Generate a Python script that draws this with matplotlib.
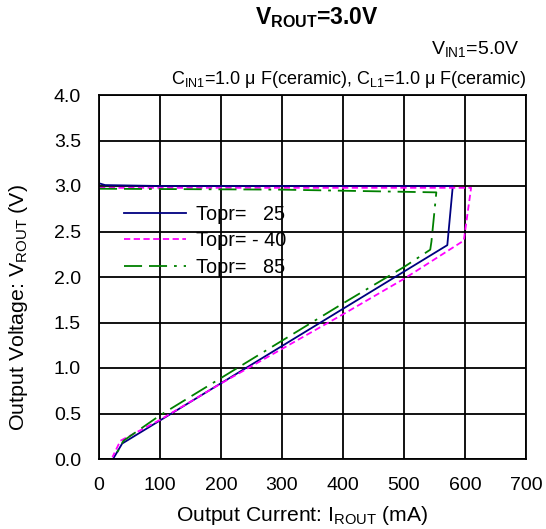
import matplotlib
matplotlib.use("Agg")
import matplotlib.pyplot as plt

plt.rcParams["font.family"] = ["Liberation Sans", "DejaVu Sans"]
plt.rcParams["mathtext.fontset"] = "custom"
plt.rcParams["mathtext.rm"] = "Liberation Sans"
plt.rcParams["mathtext.bf"] = "Liberation Sans:bold"
plt.rcParams["lines.scale_dashes"] = False

# Topr = 25 (blue)
i_25 = [0, 10, 100, 580, 571, 38, 23]
v_25 = [3.03, 3.01, 3.00, 3.00, 2.35, 0.17, 0.00]

# Topr = -40 (magenta)
i_m40 = [0, 300, 610, 598, 500, 400, 300, 200, 100, 35, 22]
v_m40 = [2.98, 2.98, 2.98, 2.40, 1.98, 1.59, 1.21, 0.83, 0.43, 0.20, 0.02]

# Topr = 85 (green)
i_85 = [0, 300, 553, 545, 543, 500, 400, 300, 200, 100, 40, 28]
v_85 = [2.97, 2.96, 2.93, 2.39, 2.30, 2.11, 1.71, 1.30, 0.89, 0.48, 0.20, 0.05]

labels = ["Topr=   25", "Topr= - 40", "Topr=   85"]

fig = plt.figure(figsize=(5.46, 5.29), dpi=100)
ax = fig.add_axes([99 / 546, 1 - 459 / 529, 427 / 546, 364 / 529])

ax.plot(i_25, v_25, color="#000080", lw=1.3, label=labels[0])
ax.plot(i_m40, v_m40, color="#FF00FF", lw=1.3, dashes=(4.5, 2.5), label=labels[1])
ax.plot(i_85, v_85, color="#008000", lw=1.3, dashes=(13, 5, 13, 5, 2, 5), label=labels[2])

ax.set_xlim(0, 700)
ax.set_ylim(0, 4.0)
ax.set_xticks(range(0, 701, 100))
ax.set_yticks([i * 0.5 for i in range(9)])
ax.set_yticklabels([f"{i * 0.5:.1f}" for i in range(9)])
ax.grid(True, color="black", lw=1.3)
ax.set_axisbelow(True)
for s in ax.spines.values():
    s.set_linewidth(1.3)
ax.tick_params(length=0, labelsize=14)
ax.tick_params(axis="x", pad=13)
ax.tick_params(axis="y", pad=13)

ax.set_xlabel("Output Current: I$_{\\mathrm{ROUT}}$ (mA)", fontsize=15.2, va="center")
ax.set_ylabel("Output Voltage: V$_{\\mathrm{ROUT}}$ (V)", fontsize=15.4, va="center", ha="center")
ax.xaxis.set_label_coords(0.475, -0.154)
ax.yaxis.set_label_coords(-0.188, 0.415)

ax.legend(loc="upper left", bbox_to_anchor=(0.04, 0.72), frameon=False,
          fontsize=14.3, handlelength=3.1, handletextpad=0.5, labelspacing=0.38,
          borderaxespad=0)

fig.text(317 / 546, 1 - 18 / 529, "$\\mathbf{V_{ROUT}}$=3.0V", ha="center", va="center",
         fontsize=16.5, fontweight="bold")
fig.text(519 / 546, 1 - 50 / 529, "V$_{\\mathrm{IN1}}$=5.0V", ha="right", va="center",
         fontsize=14)
fig.text(527 / 546, 1 - 80 / 529,
         "C$_{\\mathrm{IN1}}$=1.0 μ F(ceramic), C$_{\\mathrm{L1}}$=1.0 μ F(ceramic)",
         ha="right", va="center", fontsize=13)

fig.savefig("out.png", dpi=100)
